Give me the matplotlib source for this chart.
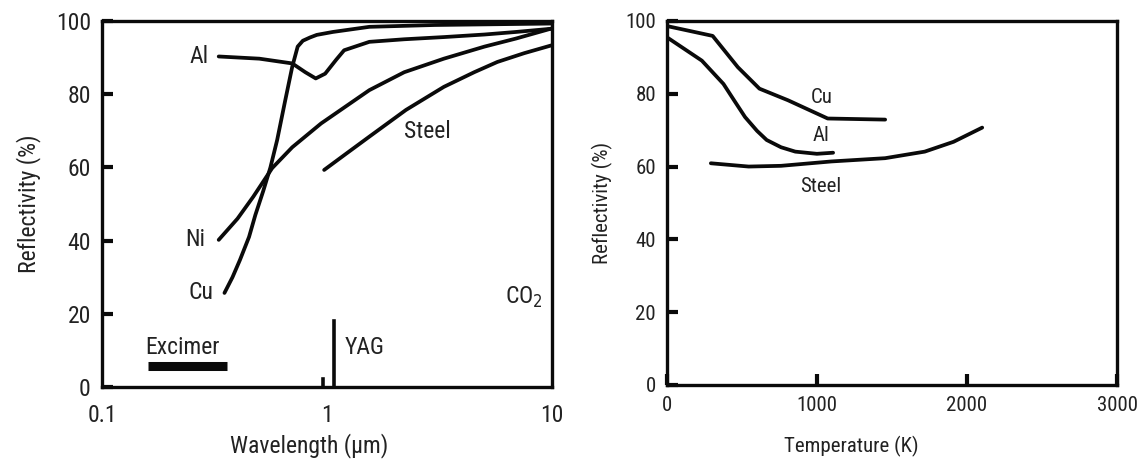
import numpy as np
import matplotlib.pyplot as plt
from matplotlib import font_manager

# condensed face if there is one, else plain DejaVu Sans
names = {f.name for f in font_manager.fontManager.ttflist}
cond = [n for n in ['Liberation Sans Narrow', 'DejaVu Sans Condensed', 'Roboto Condensed', 'Open Sans Condensed'] if n in names]
plt.rcParams['font.family'] = cond + ['DejaVu Sans']
plt.rcParams['font.stretch'] = 'condensed'

# --- left panel: reflectivity vs wavelength (um) ---
al_wl = [0.33, 0.5, 0.7, 0.8, 0.89, 0.98, 1.1, 1.19, 1.54, 2.2, 3.3, 5.0, 6.9, 10]
al_r = [90.3, 89.7, 88.4, 86.0, 84.3, 85.6, 89.5, 92.0, 94.3, 95.0, 95.6, 96.3, 97.0, 97.9]

cu_wl = [0.35, 0.38, 0.41, 0.45, 0.48, 0.52, 0.56, 0.6, 0.65, 0.7, 0.74, 0.78, 0.84, 0.9, 1.06, 1.54, 3.0, 10]
cu_r = [25.7, 30.0, 34.7, 41.0, 47.0, 53.5, 60.0, 67.5, 78.0, 87.5, 93.0, 94.6, 95.5, 96.2, 97.0, 98.4, 98.9, 99.3]

ni_wl = [0.33, 0.4, 0.47, 0.57, 0.7, 0.94, 1.2, 1.54, 2.2, 3.3, 5.0, 6.9, 10]
ni_r = [40.2, 46.0, 52.0, 59.8, 65.5, 72.0, 76.5, 81.1, 86.0, 89.7, 93.0, 95.2, 98.0]

steel_wl = [0.97, 1.2, 1.54, 2.24, 3.3, 4.5, 5.7, 7.5, 10]
steel_r = [59.3, 63.5, 68.4, 75.7, 82.0, 86.0, 88.8, 91.2, 93.4]

excimer_wl = [0.16, 0.36]
excimer_r = 5.7
yag_wl = 1.07
yag_r = 18.0
bump_wl = 0.96
bump_r = 2.2

# --- right panel: reflectivity vs temperature (K) ---
cu_t = [0, 304, 472, 616, 807, 1071, 1454]
cu_tr = [98.6, 95.9, 87.3, 81.4, 78.2, 73.2, 72.9]

al_t = [0, 232, 376, 450, 520, 600, 664, 760, 855, 999, 1107]
al_tr = [95.5, 89.1, 82.7, 78.0, 73.6, 69.8, 67.3, 65.3, 64.1, 63.5, 63.8]

steel_t = [292, 544, 760, 1095, 1454, 1718, 1910, 2101]
steel_tr = [60.9, 60.0, 60.2, 61.4, 62.3, 64.1, 66.8, 70.7]

lw = 2.7
ink = '#0a0a0a'
txt = '#222222'

fig = plt.figure(figsize=(11.43, 4.66), dpi=100)
ax1 = fig.add_axes([0.0892, 0.1695, 0.394, 0.7855])
ax2 = fig.add_axes([0.5836, 0.174, 0.3937, 0.781])

for wl, r in [(al_wl, al_r), (cu_wl, cu_r), (ni_wl, ni_r), (steel_wl, steel_r)]:
    ax1.plot(wl, r, color=ink, lw=lw, solid_capstyle='round', solid_joinstyle='round')
ax1.plot(excimer_wl, [excimer_r, excimer_r], color=ink, lw=6.5, solid_capstyle='butt')
ax1.plot([yag_wl, yag_wl], [0, yag_r], color=ink, lw=2.6)
ax1.plot([bump_wl, bump_wl], [0, bump_r], color=ink, lw=2.6)

ax1.set_xscale('log')
ax1.set_xlim(0.1, 10)
ax1.set_ylim(0, 100)
ax1.set_xticks([0.1, 1, 10])
ax1.set_xticklabels(['0.1', '1', '10'])
ax1.minorticks_off()
ax1.set_yticks([0, 20, 40, 60, 80, 100])
ax1.set_xlabel('Wavelength (\u00b5m)', fontsize=17, color=txt)
ax1.set_ylabel('Reflectivity (%)', fontsize=17, color=txt)
ax1.xaxis.set_label_coords(0.46, -0.125)
ax1.yaxis.set_label_coords(-0.135, 0.5)

fs = 17
ax1.text(0.27, 90.3, 'Al', fontsize=fs, color=txt, ha='center', va='center')
ax1.text(0.26, 40.2, 'Ni', fontsize=fs, color=txt, ha='center', va='center')
ax1.text(0.275, 25.7, 'Cu', fontsize=fs, color=txt, ha='center', va='center')
ax1.text(2.8, 69.8, 'Steel', fontsize=fs, color=txt, ha='center', va='center')
ax1.text(7.5, 24.5, 'CO$_2$', fontsize=fs, color=txt, ha='center', va='center')
ax1.text(1.2, 10.7, 'YAG', fontsize=fs, color=txt, ha='left', va='center')
ax1.text(0.156, 10.7, 'Excimer', fontsize=fs, color=txt, ha='left', va='center')

for wl, r in [(cu_t, cu_tr), (al_t, al_tr), (steel_t, steel_tr)]:
    ax2.plot(wl, r, color=ink, lw=lw, solid_capstyle='round', solid_joinstyle='round')
ax2.set_xlim(0, 3000)
ax2.set_ylim(0, 100)
ax2.set_xticks([0, 1000, 2000, 3000])
ax2.set_yticks([0, 20, 40, 60, 80, 100])
ax2.set_xlabel('Temperature (K)', fontsize=15, color=txt)
ax2.set_ylabel('Reflectivity (%)', fontsize=15, color=txt)
ax2.xaxis.set_label_coords(0.41, -0.14)
ax2.yaxis.set_label_coords(-0.12, 0.5)
ax2.text(1028, 79, 'Cu', fontsize=15, color=txt, ha='center', va='center')
ax2.text(1028, 68.6, 'Al', fontsize=15, color=txt, ha='center', va='center')
ax2.text(1023, 54.5, 'Steel', fontsize=15, color=txt, ha='center', va='center')

for ax, tfs in [(ax1, 17), (ax2, 15)]:
    for s in ax.spines.values():
        s.set_linewidth(2.4)
        s.set_color(ink)
    ax.tick_params(direction='in', length=8, width=3, colors=ink,
                   labelcolor=txt, labelsize=tfs, pad=8)
# no tick marks along the wavelength axis
ax1.tick_params(axis='x', length=0, pad=12)

fig.savefig('out.png', dpi=100)
